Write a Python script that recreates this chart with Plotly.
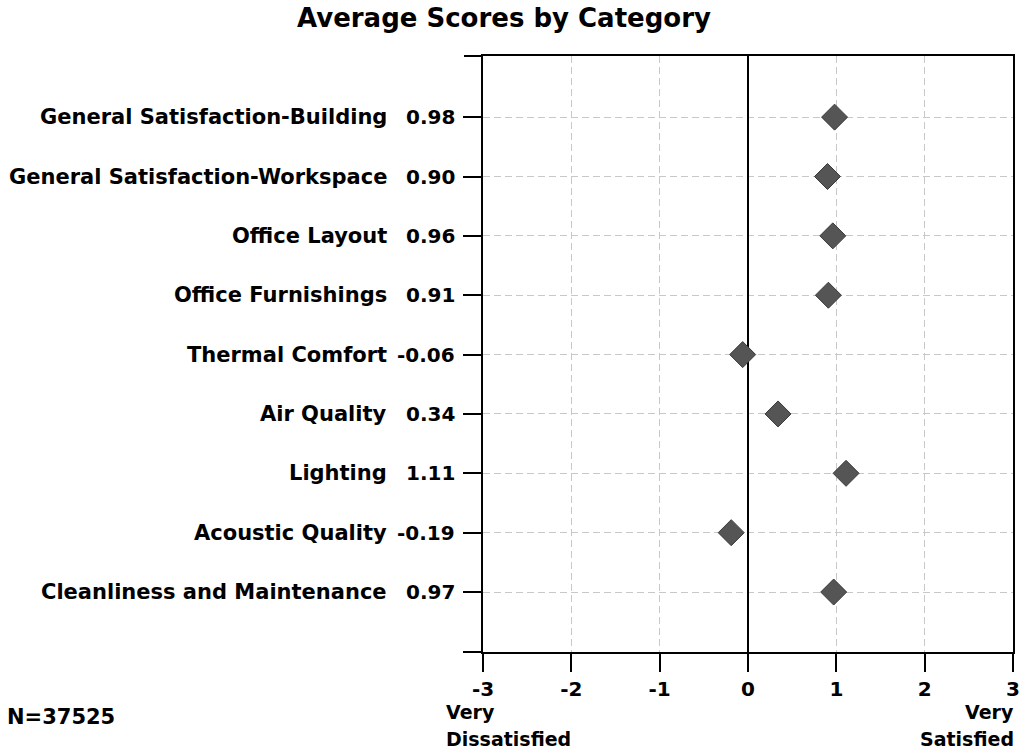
import plotly.graph_objects as go

categories = [
    "General Satisfaction-Building",
    "General Satisfaction-Workspace",
    "Office Layout",
    "Office Furnishings",
    "Thermal Comfort",
    "Air Quality",
    "Lighting",
    "Acoustic Quality",
    "Cleanliness and Maintenance",
]
scores = [0.98, 0.90, 0.96, 0.91, -0.06, 0.34, 1.11, -0.19, 0.97]
x_ticks = [-3, -2, -1, 0, 1, 2, 3]
title_text = "Average Scores by Category"
n_text = "N=37525"
left_label = ["Very", "Dissatisfied"]
right_label = ["Very", "Satisfied"]

FONT = "DejaVu Sans"
W, H = 1024, 755
L, R, T, B = 483, 11, 56, 103
PW, PH = W - L - R, H - T - B

ypos = list(range(len(categories)))

fig = go.Figure()
fig.add_trace(go.Scatter(
    x=scores, y=ypos, mode="markers",
    marker=dict(symbol="diamond", size=20, color="#555555",
                line=dict(color="#3a3a3a", width=1)),
    hoverinfo="skip", showlegend=False,
))


def px_x(p):
    return (p - L) / PW


def px_y(p):
    return 1 - (p - T) / PH


def f(size):
    return dict(family=FONT, size=size, color="black", weight="bold")


ann = []
for i, (c, s) in enumerate(zip(categories, scores)):
    ann.append(dict(text=c, x=px_x(389), xref="paper", y=i, yref="y",
                    xanchor="right", yanchor="middle", showarrow=False, font=f(21)))
    ann.append(dict(text=f"{s:.2f}", x=px_x(457), xref="paper", y=i, yref="y",
                    xanchor="right", yanchor="middle", showarrow=False, font=f(20)))

ann += [
    dict(text=left_label[0], x=px_x(444), xref="paper", y=px_y(712), yref="paper",
         xanchor="left", yanchor="middle", showarrow=False, font=f(19)),
    dict(text=left_label[1], x=px_x(444), xref="paper", y=px_y(739), yref="paper",
         xanchor="left", yanchor="middle", showarrow=False, font=f(19)),
    dict(text=right_label[0], x=px_x(1016), xref="paper", y=px_y(712), yref="paper",
         xanchor="right", yanchor="middle", showarrow=False, font=f(19)),
    dict(text=right_label[1], x=px_x(1016), xref="paper", y=px_y(739), yref="paper",
         xanchor="right", yanchor="middle", showarrow=False, font=f(19)),
    dict(text=n_text, x=px_x(5), xref="paper", y=px_y(717), yref="paper",
         xanchor="left", yanchor="middle", showarrow=False, font=f(21)),
    dict(text=title_text, x=px_x(504), xref="paper", y=px_y(18), yref="paper",
         xanchor="center", yanchor="middle", showarrow=False, font=f(26)),
]

shapes = [
    dict(type="line", xref="paper", yref="paper", x0=px_x(464), x1=0, y0=1, y1=1,
         line=dict(color="black", width=2)),
    dict(type="line", xref="paper", yref="paper", x0=px_x(463), x1=0, y0=0, y1=0,
         line=dict(color="black", width=2)),
]

GRID_DASH = "7px,4px"

fig.update_layout(
    width=W, height=H,
    margin=dict(l=L, r=R, t=T, b=B, pad=0, autoexpand=False),
    paper_bgcolor="white", plot_bgcolor="white",
    annotations=ann, shapes=shapes,
    xaxis=dict(range=[-3, 3], tickvals=x_ticks, ticktext=[str(v) for v in x_ticks],
               automargin=False,
               showgrid=True, gridcolor="#c8c8c8", griddash=GRID_DASH, gridwidth=1,
               zeroline=True, zerolinecolor="black", zerolinewidth=2,
               showline=True, linecolor="black", linewidth=2, mirror=True,
               ticks="outside", ticklen=18, tickwidth=2, tickcolor="black",
               tickfont=f(20)),
    yaxis=dict(range=[9.01, -1.03], tickvals=ypos, showticklabels=False,
               automargin=False,
               showgrid=True, gridcolor="#c8c8c8", griddash=GRID_DASH, gridwidth=1,
               zeroline=False,
               showline=True, linecolor="black", linewidth=2, mirror=True,
               ticks="outside", ticklen=18, tickwidth=2, tickcolor="black"),
)

fig.write_html(
    "out.html",
    config={"displayModeBar": False},
    post_script="document.body.style.margin='0';document.body.style.overflow='hidden';",
)
